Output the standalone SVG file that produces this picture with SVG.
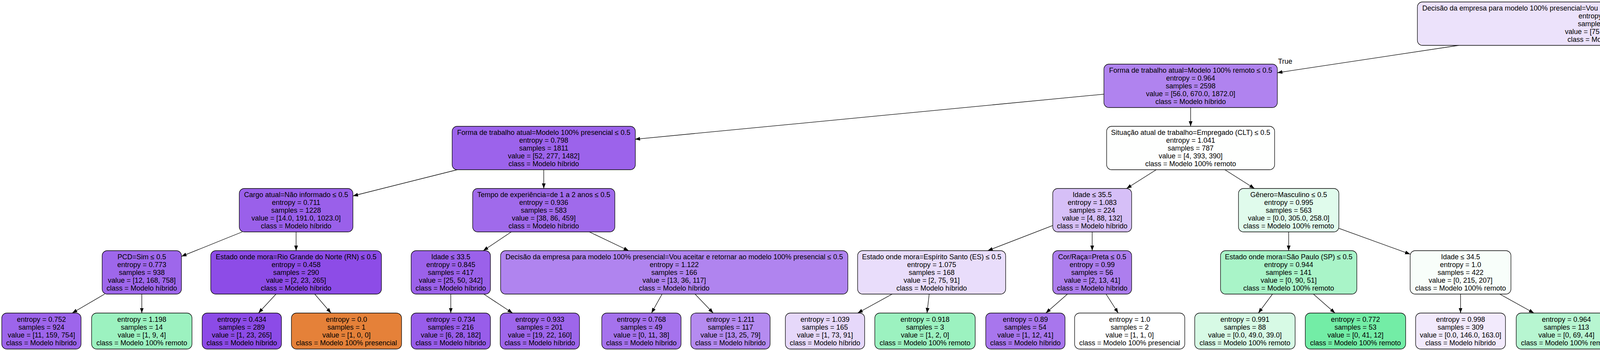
<svg xmlns="http://www.w3.org/2000/svg" width="7487" height="895" viewBox="0 0 7487 895">
<style>
.n rect{stroke:#000;stroke-width:1.3}
text{font-family:"Liberation Sans",Arial,Helvetica,sans-serif;font-size:18px;text-anchor:middle;fill:#000}
.e line,.e path{stroke:#000;stroke-width:1.3;fill:none;marker-end:url(#a)}
</style>
<defs>
<marker id="a" markerWidth="13" markerHeight="10" refX="13" refY="4.75" orient="auto" markerUnits="userSpaceOnUse"><path d="M0,0 L13,4.75 L0,9.5 z" fill="#000"/></marker>
</defs>
<rect width="7487" height="895" fill="#fff"/>
<g id="connectors" class="e">
<line x1="3734.7" y1="116" x2="3270" y2="186"/>
<line x1="4481.3" y1="116" x2="4965" y2="186.9"/>
<line x1="2826" y1="240.8" x2="1625.5" y2="356.1"/>
<line x1="3048" y1="275" x2="3048" y2="323"/>
<line x1="5187" y1="275" x2="5187" y2="323"/>
<line x1="5409" y1="246.3" x2="6330" y2="357.6"/>
<line x1="1170.7" y1="434" x2="903.5" y2="501"/>
<line x1="1392" y1="434" x2="1392" y2="482"/>
<line x1="2960" y1="434" x2="2884" y2="482"/>
<line x1="3135.6" y1="434" x2="3211.4" y2="482"/>
<line x1="5071.8" y1="434" x2="4972.2" y2="482"/>
<line x1="5302.5" y1="434" x2="5402.5" y2="482"/>
<line x1="6503" y1="434" x2="6503" y2="482"/>
<line x1="6676" y1="429.2" x2="6856.5" y2="482"/>
<line x1="620.1" y1="593" x2="464.5" y2="655.6"/>
<line x1="758" y1="593" x2="758" y2="641"/>
<line x1="1308.9" y1="593" x2="1237.1" y2="641"/>
<line x1="1508.6" y1="593" x2="1609.4" y2="641"/>
<line x1="2695" y1="576.6" x2="2528.5" y2="641"/>
<line x1="2796" y1="593" x2="2796" y2="641"/>
<line x1="3299" y1="593" x2="3299" y2="641"/>
<line x1="3427.5" y1="583.9" x2="3610" y2="649.9"/>
<line x1="4693" y1="593" x2="4551" y2="641"/>
<line x1="4857" y1="593" x2="4857" y2="641"/>
<line x1="5518" y1="593" x2="5518" y2="641"/>
<path d="M5745,588 Q5860,620 5948,651"/>
<line x1="6447.2" y1="593" x2="6398.8" y2="641"/>
<line x1="6577.7" y1="593" x2="6642.3" y2="641"/>
<line x1="7046" y1="593" x2="7046" y2="650.5"/>
<line x1="7148.6" y1="593" x2="7255" y2="650.5"/>
<line x1="267.9" y1="752" x2="184.8" y2="800.5"/>
<line x1="363" y1="752" x2="363" y2="800.5"/>
<line x1="706.6" y1="752" x2="661.6" y2="800.5"/>
<line x1="805.7" y1="752" x2="847.4" y2="800.5"/>
<line x1="1154" y1="752" x2="1154" y2="800.5"/>
<line x1="1238.4" y1="752" x2="1312.1" y2="800.5"/>
<line x1="1694.9" y1="752" x2="1667.8" y2="800.5"/>
<line x1="1779.3" y1="752" x2="1825.8" y2="800.5"/>
<line x1="2284" y1="752" x2="2195.7" y2="800.5"/>
<line x1="2378.7" y1="752" x2="2373.2" y2="800.5"/>
<line x1="2732.7" y1="752" x2="2677.4" y2="800.5"/>
<line x1="2831.5" y1="752" x2="2862.6" y2="800.5"/>
<line x1="3257.6" y1="752" x2="3221.4" y2="800.5"/>
<line x1="3362.3" y1="752" x2="3417.6" y2="800.5"/>
<line x1="3739" y1="752" x2="3739" y2="800.5"/>
<line x1="3839.3" y1="752" x2="3926.9" y2="800.5"/>
<line x1="4351.8" y1="752" x2="4321.1" y2="800.5"/>
<line x1="4456.2" y1="752" x2="4516.6" y2="800.5"/>
<line x1="4857" y1="752" x2="4857" y2="800.5"/>
<line x1="4965.8" y1="752" x2="5060.8" y2="800.5"/>
<line x1="5499.5" y1="752" x2="5483.3" y2="800.5"/>
<line x1="5594.2" y1="752" x2="5660.8" y2="800.5"/>
<line x1="6249.4" y1="752" x2="6167.6" y2="800.5"/>
<line x1="6353.7" y1="752" x2="6363.1" y2="800.5"/>
<line x1="6705.9" y1="752" x2="6696.2" y2="800.5"/>
<line x1="6800.6" y1="752" x2="6873.7" y2="800.5"/>
<text x="3290" y="163">True</text>
<text x="4944" y="164">False</text>
</g>
<g id="marker-node"><rect x="4601" y="36" width="74" height="49" rx="15" fill="#000" stroke="#222" stroke-width="1.3"/></g>
<g id="n0" class="n" transform="translate(4103,60.5)"><rect x="-474.5" y="-55.5" width="949" height="111" rx="13" fill="#ece2fb"/><text y="-34">Decisão da empresa para modelo 100% presencial=Vou procurar outra oportunidade no modelo 100% remoto ≤ 0.5</text><text y="-14">entropy = 1.115</text><text y="6">samples = 3802</text><text y="26">value = [75, 1708, 2019]</text><text y="46">class = Modelo híbrido</text></g>
<g id="n1" class="n" transform="translate(3048,219.5)"><rect x="-222" y="-55.5" width="444" height="111" rx="13" fill="#b083ef"/><text y="-34">Forma de trabalho atual=Modelo 100% remoto ≤ 0.5</text><text y="-14">entropy = 0.964</text><text y="6">samples = 2598</text><text y="26">value = [56.0, 670.0, 1872.0]</text><text y="46">class = Modelo híbrido</text></g>
<g id="n2" class="n" transform="translate(5187,219.5)"><rect x="-222" y="-55.5" width="444" height="111" rx="13" fill="#58e995"/><text y="-34">Forma de trabalho atual=Modelo 100% remoto ≤ 0.5</text><text y="-14">entropy = 0.649</text><text y="6">samples = 1204</text><text y="26">value = [19, 1038, 147]</text><text y="46">class = Modelo 100% remoto</text></g>
<g id="n3" class="n" transform="translate(1392,378.5)"><rect x="-234.5" y="-55.5" width="469" height="111" rx="13" fill="#9c63eb"/><text y="-34">Forma de trabalho atual=Modelo 100% presencial ≤ 0.5</text><text y="-14">entropy = 0.798</text><text y="6">samples = 1811</text><text y="26">value = [52, 277, 1482]</text><text y="46">class = Modelo híbrido</text></g>
<g id="n4" class="n" transform="translate(3048,378.5)"><rect x="-215" y="-55.5" width="430" height="111" rx="13" fill="#fefffe"/><text y="-34">Situação atual de trabalho=Empregado (CLT) ≤ 0.5</text><text y="-14">entropy = 1.041</text><text y="6">samples = 787</text><text y="26">value = [4, 393, 390]</text><text y="46">class = Modelo 100% remoto</text></g>
<g id="n5" class="n" transform="translate(5187,378.5)"><rect x="-209" y="-55.5" width="418" height="111" rx="13" fill="#82efaf"/><text y="-34">Estado onde mora=Rio Grande do Sul (RS) ≤ 0.5</text><text y="-14">entropy = 1.08</text><text y="6">samples = 224</text><text y="26">value = [14, 160, 50]</text><text y="46">class = Modelo 100% remoto</text></g>
<g id="n6" class="n" transform="translate(6503,378.5)"><rect x="-173" y="-55.5" width="346" height="111" rx="13" fill="#50e890"/><text y="-34">Estado onde mora=Tocantins (TO) ≤ 0.5</text><text y="-14">entropy = 0.511</text><text y="6">samples = 980</text><text y="26">value = [5, 878, 97]</text><text y="46">class = Modelo 100% remoto</text></g>
<g id="n7" class="n" transform="translate(758,537.5)"><rect x="-145.5" y="-55.5" width="291" height="111" rx="13" fill="#9a60ea"/><text y="-34">Cargo atual=Não informado ≤ 0.5</text><text y="-14">entropy = 0.711</text><text y="6">samples = 1228</text><text y="26">value = [14.0, 191.0, 1023.0]</text><text y="46">class = Modelo híbrido</text></g>
<g id="n8" class="n" transform="translate(1392,537.5)"><rect x="-182" y="-55.5" width="364" height="111" rx="13" fill="#a06aeb"/><text y="-34">Tempo de experiência=de 1 a 2 anos ≤ 0.5</text><text y="-14">entropy = 0.936</text><text y="6">samples = 583</text><text y="26">value = [38, 86, 459]</text><text y="46">class = Modelo híbrido</text></g>
<g id="n9" class="n" transform="translate(2796,537.5)"><rect x="-101" y="-55.5" width="202" height="111" rx="13" fill="#d6bff7"/><text y="-34">Idade ≤ 35.5</text><text y="-14">entropy = 1.083</text><text y="6">samples = 224</text><text y="26">value = [4, 88, 132]</text><text y="46">class = Modelo híbrido</text></g>
<g id="n10" class="n" transform="translate(3299,537.5)"><rect x="-128.5" y="-55.5" width="257" height="111" rx="13" fill="#e0fbec"/><text y="-34">Gênero=Masculino ≤ 0.5</text><text y="-14">entropy = 0.995</text><text y="6">samples = 563</text><text y="26">value = [0.0, 305.0, 258.0]</text><text y="46">class = Modelo 100% remoto</text></g>
<g id="n11" class="n" transform="translate(4857,537.5)"><rect x="-233.5" y="-55.5" width="467" height="111" rx="13" fill="#77eda9"/><text y="-34">Forma de trabalho atual=Modelo 100% presencial ≤ 0.5</text><text y="-14">entropy = 1.031</text><text y="6">samples = 208</text><text y="26">value = [14, 155, 39]</text><text y="46">class = Modelo 100% remoto</text></g>
<g id="n12" class="n" transform="translate(5518,537.5)"><rect x="-227" y="-55.5" width="454" height="111" rx="13" fill="#ba93f1"/><text y="-34">Faixa salarial=de R$ 4.001/mês a R$ 6.000/mês ≤ 0.5</text><text y="-14">entropy = 0.896</text><text y="6">samples = 16</text><text y="26">value = [0, 5, 11]</text><text y="46">class = Modelo híbrido</text></g>
<g id="n13" class="n" transform="translate(6503,537.5)"><rect x="-129.5" y="-55.5" width="259" height="111" rx="13" fill="#50e88f"/><text y="-34">Idade ≤ 55.5</text><text y="-14">entropy = 0.497</text><text y="6">samples = 976</text><text y="26">value = [3, 876, 97]</text><text y="46">class = Modelo 100% remoto</text></g>
<g id="n14" class="n" transform="translate(7046,537.5)"><rect x="-227" y="-55.5" width="454" height="111" rx="13" fill="#ffffff"/><text y="-34">Faixa salarial=de R$ 1.001/mês a R$ 2.000/mês ≤ 0.5</text><text y="-14">entropy = 1.0</text><text y="6">samples = 4</text><text y="26">value = [2, 2, 0]</text><text y="46">class = Modelo 100% presencial</text></g>
<g id="n15" class="n" transform="translate(363,696.5)"><rect x="-101.5" y="-55.5" width="203" height="111" rx="13" fill="#9e67eb"/><text y="-34">PCD=Sim ≤ 0.5</text><text y="-14">entropy = 0.773</text><text y="6">samples = 938</text><text y="26">value = [12, 168, 758]</text><text y="46">class = Modelo híbrido</text></g>
<g id="n16" class="n" transform="translate(758,696.5)"><rect x="-218.5" y="-55.5" width="437" height="111" rx="13" fill="#8d4ce7"/><text y="-34">Estado onde mora=Rio Grande do Norte (RN) ≤ 0.5</text><text y="-14">entropy = 0.458</text><text y="6">samples = 290</text><text y="26">value = [2, 23, 265]</text><text y="46">class = Modelo híbrido</text></g>
<g id="n17" class="n" transform="translate(1154,696.5)"><rect x="-101.5" y="-55.5" width="203" height="111" rx="13" fill="#9b61ea"/><text y="-34">Idade ≤ 33.5</text><text y="-14">entropy = 0.845</text><text y="6">samples = 417</text><text y="26">value = [25, 50, 342]</text><text y="46">class = Modelo híbrido</text></g>
<g id="n18" class="n" transform="translate(1726,696.5)"><rect x="-444.5" y="-55.5" width="889" height="111" rx="13" fill="#b084ef"/><text y="-34">Decisão da empresa para modelo 100% presencial=Vou aceitar e retornar ao modelo 100% presencial ≤ 0.5</text><text y="-14">entropy = 1.122</text><text y="6">samples = 166</text><text y="26">value = [13, 36, 117]</text><text y="46">class = Modelo híbrido</text></g>
<g id="n19" class="n" transform="translate(2385,696.5)"><rect x="-189.5" y="-55.5" width="379" height="111" rx="13" fill="#e9ddfb"/><text y="-34">Estado onde mora=Espírito Santo (ES) ≤ 0.5</text><text y="-14">entropy = 1.075</text><text y="6">samples = 168</text><text y="26">value = [2, 75, 91]</text><text y="46">class = Modelo híbrido</text></g>
<g id="n20" class="n" transform="translate(2796,696.5)"><rect x="-101" y="-55.5" width="202" height="111" rx="13" fill="#ad7eee"/><text y="-34">Cor/Raça=Preta ≤ 0.5</text><text y="-14">entropy = 0.99</text><text y="6">samples = 56</text><text y="26">value = [2, 13, 41]</text><text y="46">class = Modelo híbrido</text></g>
<g id="n21" class="n" transform="translate(3299,696.5)"><rect x="-174.5" y="-55.5" width="349" height="111" rx="13" fill="#a9f4c8"/><text y="-34">Estado onde mora=São Paulo (SP) ≤ 0.5</text><text y="-14">entropy = 0.944</text><text y="6">samples = 141</text><text y="26">value = [0, 90, 51]</text><text y="46">class = Modelo 100% remoto</text></g>
<g id="n22" class="n" transform="translate(3739,696.5)"><rect x="-129" y="-55.5" width="258" height="111" rx="13" fill="#f8fefa"/><text y="-34">Idade ≤ 34.5</text><text y="-14">entropy = 1.0</text><text y="6">samples = 422</text><text y="26">value = [0, 215, 207]</text><text y="46">class = Modelo 100% remoto</text></g>
<g id="n23" class="n" transform="translate(4387,696.5)"><rect x="-208" y="-55.5" width="416" height="111" rx="13" fill="#7deeac"/><text y="-34">Horas com trabalho doméstico e cuidado ≤ 17.25</text><text y="-14">entropy = 1.002</text><text y="6">samples = 166</text><text y="26">value = [7.0, 122.0, 37.0]</text><text y="46">class = Modelo 100% remoto</text></g>
<g id="n24" class="n" transform="translate(4857,696.5)"><rect x="-237" y="-55.5" width="474" height="111" rx="13" fill="#6ceca1"/><text y="-34">Faixa salarial=de R$ 12.001/mês a R$ 16.000/mês ≤ 0.5</text><text y="-14">entropy = 0.913</text><text y="6">samples = 42</text><text y="26">value = [7, 33, 2]</text><text y="46">class = Modelo 100% remoto</text></g>
<g id="n25" class="n" transform="translate(5518,696.5)"><rect x="-399" y="-55.5" width="798" height="111" rx="13" fill="#d0b5f5"/><text y="-34">Área de formação=Estatística/ Matemática / Matemática Computacional/ Ciências Atuariais ≤ 0.5</text><text y="-14">entropy = 0.961</text><text y="6">samples = 13</text><text y="26">value = [0, 5, 8]</text><text y="46">class = Modelo híbrido</text></g>
<g id="n26" class="n" transform="translate(6044,696.5)"><rect x="-101.5" y="-46" width="203" height="92" rx="13" fill="#8139e5"/><text y="-24">entropy = 0.0</text><text y="-4">samples = 3</text><text y="16">value = [0, 0, 3]</text><text y="36">class = Modelo híbrido</text></g>
<g id="n27" class="n" transform="translate(6343,696.5)"><rect x="-173.5" y="-55.5" width="347" height="111" rx="13" fill="#4fe88f"/><text y="-34">Nível de ensino=Doutorado ou Phd ≤ 0.5</text><text y="-14">entropy = 0.486</text><text y="6">samples = 970</text><text y="26">value = [3, 874, 93]</text><text y="46">class = Modelo 100% remoto</text></g>
<g id="n28" class="n" transform="translate(6717,696.5)"><rect x="-175.5" y="-55.5" width="351" height="111" rx="13" fill="#c09cf2"/><text y="-34">Estado onde mora=São Paulo (SP) ≤ 0.5</text><text y="-14">entropy = 0.918</text><text y="6">samples = 6</text><text y="26">value = [0, 2, 4]</text><text y="46">class = Modelo híbrido</text></g>
<g id="n29" class="n" transform="translate(7046,696.5)"><rect x="-128.5" y="-46" width="257" height="92" rx="13" fill="#39e581"/><text y="-24">entropy = 0.0</text><text y="-4">samples = 2</text><text y="16">value = [0, 2, 0]</text><text y="36">class = Modelo 100% remoto</text></g>
<g id="n30" class="n" transform="translate(7340,696.5)"><rect x="-141" y="-46" width="282" height="92" rx="13" fill="#e58139"/><text y="-24">entropy = 0.0</text><text y="-4">samples = 2</text><text y="16">value = [2, 0, 0]</text><text y="36">class = Modelo 100% presencial</text></g>
<g id="n31" class="n" transform="translate(106,846.5)"><rect x="-101.5" y="-46" width="203" height="92" rx="13" fill="#9d65eb"/><text y="-24">entropy = 0.752</text><text y="-4">samples = 924</text><text y="16">value = [11, 159, 754]</text><text y="36">class = Modelo híbrido</text></g>
<g id="n32" class="n" transform="translate(363,846.5)"><rect x="-128.5" y="-46" width="257" height="92" rx="13" fill="#9cf2c0"/><text y="-24">entropy = 1.198</text><text y="-4">samples = 14</text><text y="16">value = [1, 9, 4]</text><text y="36">class = Modelo 100% remoto</text></g>
<g id="n33" class="n" transform="translate(619,846.5)"><rect x="-101.5" y="-46" width="203" height="92" rx="13" fill="#8c4be7"/><text y="-24">entropy = 0.434</text><text y="-4">samples = 289</text><text y="16">value = [1, 23, 265]</text><text y="36">class = Modelo híbrido</text></g>
<g id="n34" class="n" transform="translate(887,846.5)"><rect x="-141" y="-46" width="282" height="92" rx="13" fill="#e58139"/><text y="-24">entropy = 0.0</text><text y="-4">samples = 1</text><text y="16">value = [1, 0, 0]</text><text y="36">class = Modelo 100% presencial</text></g>
<g id="n35" class="n" transform="translate(1154,846.5)"><rect x="-101.5" y="-46" width="203" height="92" rx="13" fill="#985dea"/><text y="-24">entropy = 0.734</text><text y="-4">samples = 216</text><text y="16">value = [6, 28, 182]</text><text y="36">class = Modelo híbrido</text></g>
<g id="n36" class="n" transform="translate(1382,846.5)"><rect x="-101.5" y="-46" width="203" height="92" rx="13" fill="#9e66eb"/><text y="-24">entropy = 0.933</text><text y="-4">samples = 201</text><text y="16">value = [19, 22, 160]</text><text y="36">class = Modelo híbrido</text></g>
<g id="n37" class="n" transform="translate(1642,846.5)"><rect x="-101.5" y="-46" width="203" height="92" rx="13" fill="#a572ed"/><text y="-24">entropy = 0.768</text><text y="-4">samples = 49</text><text y="16">value = [0, 11, 38]</text><text y="36">class = Modelo híbrido</text></g>
<g id="n38" class="n" transform="translate(1870,846.5)"><rect x="-101.5" y="-46" width="203" height="92" rx="13" fill="#b58bf0"/><text y="-24">entropy = 1.211</text><text y="-4">samples = 117</text><text y="16">value = [13, 25, 79]</text><text y="36">class = Modelo híbrido</text></g>
<g id="n39" class="n" transform="translate(2112,846.5)"><rect x="-101.5" y="-46" width="203" height="92" rx="13" fill="#e6d8fa"/><text y="-24">entropy = 1.039</text><text y="-4">samples = 165</text><text y="16">value = [1, 73, 91]</text><text y="36">class = Modelo híbrido</text></g>
<g id="n40" class="n" transform="translate(2368,846.5)"><rect x="-128.5" y="-46" width="257" height="92" rx="13" fill="#9cf2c0"/><text y="-24">entropy = 0.918</text><text y="-4">samples = 3</text><text y="16">value = [1, 2, 0]</text><text y="36">class = Modelo 100% remoto</text></g>
<g id="n41" class="n" transform="translate(2625,846.5)"><rect x="-101.5" y="-46" width="203" height="92" rx="13" fill="#a876ed"/><text y="-24">entropy = 0.89</text><text y="-4">samples = 54</text><text y="16">value = [1, 12, 41]</text><text y="36">class = Modelo híbrido</text></g>
<g id="n42" class="n" transform="translate(2892,846.5)"><rect x="-141" y="-46" width="282" height="92" rx="13" fill="#ffffff"/><text y="-24">entropy = 1.0</text><text y="-4">samples = 2</text><text y="16">value = [1, 1, 0]</text><text y="36">class = Modelo 100% presencial</text></g>
<g id="n43" class="n" transform="translate(3187,846.5)"><rect x="-128.5" y="-46" width="257" height="92" rx="13" fill="#d7fae5"/><text y="-24">entropy = 0.991</text><text y="-4">samples = 88</text><text y="16">value = [0.0, 49.0, 39.0]</text><text y="36">class = Modelo 100% remoto</text></g>
<g id="n44" class="n" transform="translate(3470,846.5)"><rect x="-128.5" y="-46" width="257" height="92" rx="13" fill="#73eda6"/><text y="-24">entropy = 0.772</text><text y="-4">samples = 53</text><text y="16">value = [0, 41, 12]</text><text y="36">class = Modelo 100% remoto</text></g>
<g id="n45" class="n" transform="translate(3739,846.5)"><rect x="-115" y="-46" width="230" height="92" rx="13" fill="#f2eafc"/><text y="-24">entropy = 0.998</text><text y="-4">samples = 309</text><text y="16">value = [0.0, 146.0, 163.0]</text><text y="36">class = Modelo híbrido</text></g>
<g id="n46" class="n" transform="translate(4010,846.5)"><rect x="-128.5" y="-46" width="257" height="92" rx="13" fill="#b7f6d1"/><text y="-24">entropy = 0.964</text><text y="-4">samples = 113</text><text y="16">value = [0, 69, 44]</text><text y="36">class = Modelo 100% remoto</text></g>
<g id="n47" class="n" transform="translate(4292,846.5)"><rect x="-128.5" y="-46" width="257" height="92" rx="13" fill="#6feca3"/><text y="-24">entropy = 0.953</text><text y="-4">samples = 128</text><text y="16">value = [7, 99, 22]</text><text y="36">class = Modelo 100% remoto</text></g>
<g id="n48" class="n" transform="translate(4574,846.5)"><rect x="-128.5" y="-46" width="257" height="92" rx="13" fill="#baf6d3"/><text y="-24">entropy = 0.968</text><text y="-4">samples = 38</text><text y="16">value = [0, 23, 15]</text><text y="36">class = Modelo 100% remoto</text></g>
<g id="n49" class="n" transform="translate(4857,846.5)"><rect x="-128.5" y="-46" width="257" height="92" rx="13" fill="#5be997"/><text y="-24">entropy = 0.761</text><text y="-4">samples = 39</text><text y="16">value = [4, 33, 2]</text><text y="36">class = Modelo 100% remoto</text></g>
<g id="n50" class="n" transform="translate(5151,846.5)"><rect x="-141" y="-46" width="282" height="92" rx="13" fill="#e58139"/><text y="-24">entropy = 0.0</text><text y="-4">samples = 3</text><text y="16">value = [3, 0, 0]</text><text y="36">class = Modelo 100% presencial</text></g>
<g id="n51" class="n" transform="translate(5468,846.5)"><rect x="-101.5" y="-46" width="203" height="92" rx="13" fill="#b083ef"/><text y="-24">entropy = 0.845</text><text y="-4">samples = 11</text><text y="16">value = [0, 3, 8]</text><text y="36">class = Modelo híbrido</text></g>
<g id="n52" class="n" transform="translate(5724,846.5)"><rect x="-128.5" y="-46" width="257" height="92" rx="13" fill="#39e581"/><text y="-24">entropy = 0.0</text><text y="-4">samples = 2</text><text y="16">value = [0, 2, 0]</text><text y="36">class = Modelo 100% remoto</text></g>
<g id="n53" class="n" transform="translate(6090,846.5)"><rect x="-128.5" y="-46" width="257" height="92" rx="13" fill="#4ee88f"/><text y="-24">entropy = 0.47</text><text y="-4">samples = 923</text><text y="16">value = [1, 833, 89]</text><text y="36">class = Modelo 100% remoto</text></g>
<g id="n54" class="n" transform="translate(6372,846.5)"><rect x="-128.5" y="-46" width="257" height="92" rx="13" fill="#55e993"/><text y="-24">entropy = 0.668</text><text y="-4">samples = 47</text><text y="16">value = [2, 41, 4]</text><text y="36">class = Modelo 100% remoto</text></g>
<g id="n55" class="n" transform="translate(6687,846.5)"><rect x="-101.5" y="-46" width="203" height="92" rx="13" fill="#8139e5"/><text y="-24">entropy = 0.0</text><text y="-4">samples = 4</text><text y="16">value = [0, 0, 4]</text><text y="36">class = Modelo híbrido</text></g>
<g id="n56" class="n" transform="translate(6943,846.5)"><rect x="-128.5" y="-46" width="257" height="92" rx="13" fill="#39e581"/><text y="-24">entropy = 0.0</text><text y="-4">samples = 2</text><text y="16">value = [0, 2, 0]</text><text y="36">class = Modelo 100% remoto</text></g>
</svg>
